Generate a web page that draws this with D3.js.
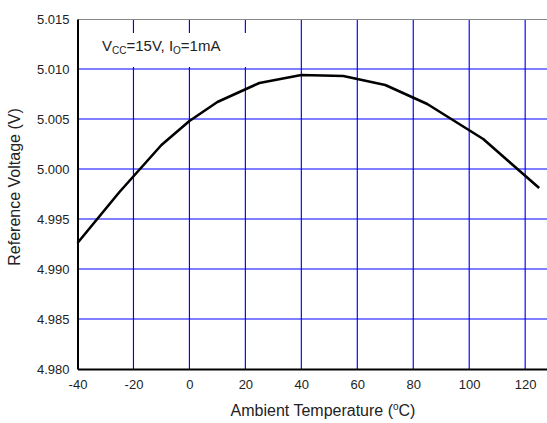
<!DOCTYPE html>
<html>
<head>
<meta charset="utf-8">
<script src="https://cdn.jsdelivr.net/npm/d3@7"></script>
<style>
  body { margin: 0; background: #fff; }
  text { font-family: "Liberation Sans", Arial, sans-serif; fill: #222; }
</style>
</head>
<body>
<div id="chart"></div>
<script>
const temps = [-40, -25, -10, 0, 10, 25, 40, 55, 70, 85, 105, 125];
const volts = [4.9926, 4.9977, 5.0024, 5.0048, 5.0067, 5.0086, 5.0094, 5.0093, 5.0084, 5.0065, 5.0030, 4.9981];
const xTicks = [-40, -20, 0, 20, 40, 60, 80, 100, 120];
const yTicks = [4.980, 4.985, 4.990, 4.995, 5.000, 5.005, 5.010, 5.015];

const width = 547, height = 423;
const plotLeft = 77.5, plotTop = 19, plotRight = 547, plotBottom = 369;

const svg = d3.select("#chart").append("svg")
  .attr("width", width)
  .attr("height", height);

const x = d3.scaleLinear().domain([-40, 127.8]).range([plotLeft, plotRight]);
const y = d3.scaleLinear().domain([4.980, 5.015]).range([plotBottom, plotTop]);

// grid
const grid = svg.append("g");
grid.selectAll(".vx").data(xTicks.slice(1)).enter().append("line")
  .attr("x1", d => x(d)).attr("x2", d => x(d))
  .attr("y1", plotTop).attr("y2", plotBottom)
  .style("stroke", "#0000ff").style("stroke-width", 1.15);
grid.selectAll(".hy").data(yTicks.slice(1, -1)).enter().append("line")
  .attr("x1", plotLeft).attr("x2", plotRight)
  .attr("y1", d => y(d)).attr("y2", d => y(d))
  .style("stroke", "#0000ff").style("stroke-width", 1.15);

// white box behind annotation
svg.append("rect")
  .attr("x", plotLeft + 1).attr("y", 33)
  .attr("width", 196).attr("height", 34)
  .attr("fill", "#fff");

// frame
svg.append("line").attr("x1", plotLeft).attr("x2", plotRight).attr("y1", plotTop).attr("y2", plotTop)
  .attr("stroke", "#888").attr("stroke-width", 1).attr("shape-rendering", "crispEdges");

// axes
const xAxis = svg.append("g")
  .attr("transform", `translate(0,${plotBottom})`)
  .call(d3.axisBottom(x).tickValues(xTicks).tickFormat(d => String(d)).tickSize(0).tickPadding(11));
xAxis.select(".domain").attr("stroke", "#000").attr("stroke-width", 2);
xAxis.selectAll("text").style("font-size", "13px").style("font-family", "Liberation Sans, Arial, sans-serif").attr("fill", "#222");

const yAxis = svg.append("g")
  .attr("transform", `translate(${plotLeft},0)`)
  .call(d3.axisLeft(y).tickValues(yTicks).tickFormat(d => d.toFixed(3)).tickSize(0).tickPadding(8));
yAxis.select(".domain").attr("stroke", "#000").attr("stroke-width", 2);
yAxis.selectAll("text").style("font-size", "13px").style("font-family", "Liberation Sans, Arial, sans-serif").attr("fill", "#222");

// curve
const line = d3.line().x(d => x(d[0])).y(d => y(d[1]));
svg.append("path")
  .datum(temps.map((t, i) => [t, volts[i]]))
  .attr("d", line)
  .attr("fill", "none")
  .attr("stroke", "#000")
  .attr("stroke-width", 2.6)
  .attr("stroke-linejoin", "round");

// annotation
const ann = svg.append("text").attr("x", 102).attr("y", 51).style("font-size", "15px");
ann.append("tspan").text("V");
ann.append("tspan").attr("dy", 3).style("font-size", "10px").text("CC");
ann.append("tspan").attr("dy", -3).text("=15V, I");
ann.append("tspan").attr("dy", 3).style("font-size", "10px").text("O");
ann.append("tspan").attr("dy", -3).text("=1mA");

// axis titles
const xt = svg.append("text")
  .attr("x", 323).attr("y", 416)
  .attr("text-anchor", "middle")
  .style("font-size", "16px");
xt.append("tspan").text("Ambient Temperature (");
xt.append("tspan").attr("dy", -6).style("font-size", "10px").text("o");
xt.append("tspan").attr("dy", 6).text("C)");

svg.append("text")
  .attr("transform", "translate(19.5,187) rotate(-90)")
  .attr("text-anchor", "middle")
  .style("font-size", "16px")
  .text("Reference Voltage (V)");
</script>
</body>
</html>
